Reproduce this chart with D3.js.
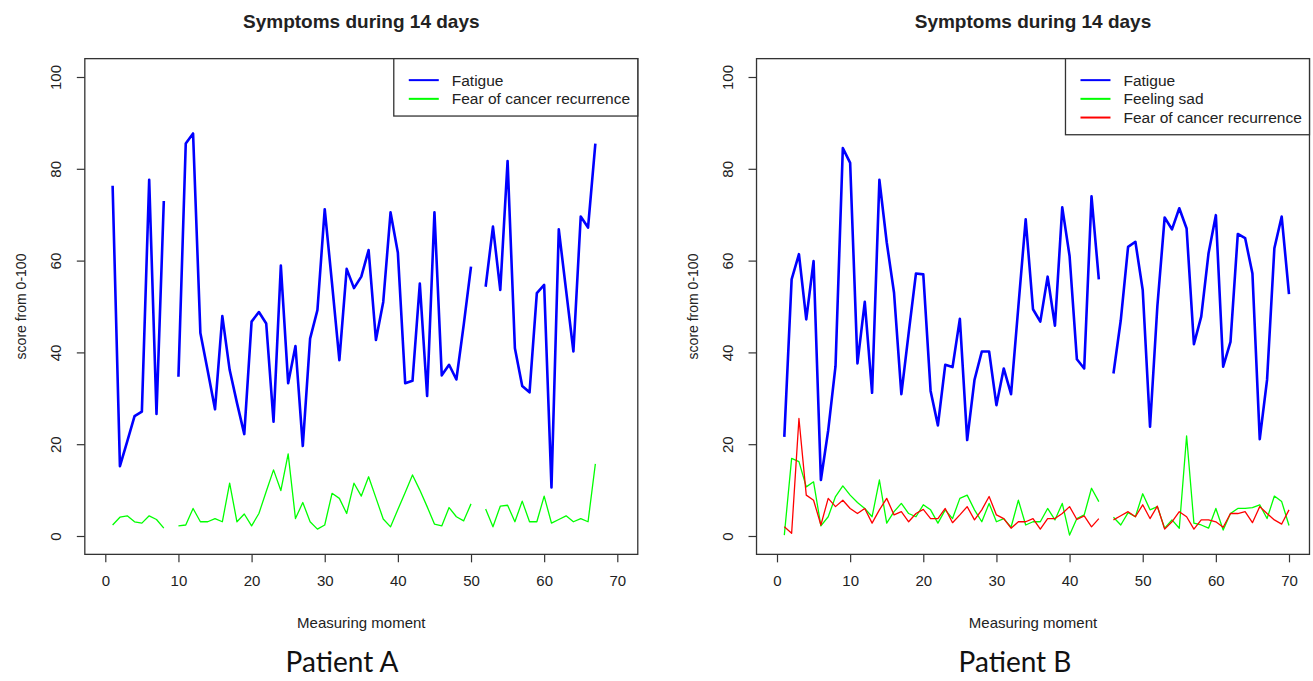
<!DOCTYPE html>
<html>
<head>
<meta charset="utf-8">
<script src="https://cdn.jsdelivr.net/npm/d3@7"></script>
<style>
  body { margin: 0; background: #fff; }
  svg text { font-family: "Liberation Sans", Arial, sans-serif; fill: #222; }
</style>
</head>
<body>
<svg id="chart" width="1313" height="681"></svg>
<script>
// 数据 —— null 表示缺失（线断开）
var ticksX = [0, 10, 20, 30, 40, 50, 60, 70]
var ticksY = [0, 20, 40, 60, 80, 100]

var fatigueA = [76.3, 15.2, 20.6, 26.1, 27.1, 77.6, 26.6, 73, null, 34.7,
  85.5, 87.7, 44.2, 36, 27.6, 47.9, 36.2, 29, 22.2, 46.7,
  48.8, 46.3, 24.9, 58.9, 33.3, 41.4, 19.6, 43, 49.2, 71.2,
  55, 38.3, 58.2, 54, 56.5, 62.3, 42.7, 51, 70.5, 61.7,
  33.3, 33.8, 55, 30.5, 70.5, 35, 37.3, 34.1, 46, 58.7,
  null, 54.3, 67.4, 53.6, 81.7, 40.9, 32.7, 31.3, 52.9, 54.7,
  10.6, 66.8, 53.5, 40.2, 69.6, 67.2, 85.5]

var fearA = [2.4, 4.1, 4.4, 3.1, 2.8, 4.4, 3.6, 1.7, null, 2.2,
  2.4, 6.0, 3.1, 3.1, 3.8, 3.1, 11.5, 3.1, 4.8, 2.2,
  4.9, 9.7, 14.4, 9.9, 17.9, 3.8, 7.3, 3.1, 1.5, 2.4,
  9.3, 8.2, 4.9, 11.5, 8.7, 12.9, 8.3, 3.7, 2.0, 5.8,
  9.5, 13.3, 10, 6.4, 2.6, 2.2, 6.2, 4.2, 3.3, 7,
  null, 5.9, 2.0, 6.5, 6.7, 3.1, 7.6, 3.1, 3.1, 8.7,
  2.8, 3.6, 4.4, 3.1, 3.8, 3.1, 15.7]

var fatigueB = [21.6, 55.9, 61.4, 47.2, 59.9, 12.2, 23, 37, 84.5, 81.3,
  37.6, 51, 31.2, 77.6, 64, 53, 30.9, 44.2, 57.2, 57,
  31.6, 24.1, 37.3, 36.8, 47.3, 20.9, 34, 40.2, 40.2, 28.5,
  36.5, 30.9, 50, 69, 49.4, 46.7, 56.5, 45.8, 71.6, 61,
  38.5, 36.5, 74, 55.9, null, 35.4, 47, 63, 64.1, 53.6,
  23.8, 50, 69.4, 66.8, 71.4, 67, 41.8, 47.8, 61.6, 69.9,
  36.9, 42.3, 65.8, 64.9, 57.2, 21.1, 34, 62.7, 69.6, 52.7]

var sadB = [0.2, 16.9, 16.2, 10.7, 11.8, 2.2, 4.2, 8.6, 10.9, 8.9,
  7.3, 6.0, 4.2, 12.2, 2.8, 5.3, 7.1, 4.9, 4.2, 6.8,
  5.7, 2.8, 5.7, 3.8, 8.2, 8.9, 5.7, 3.1, 7.1, 3.1,
  3.8, 1.9, 7.8, 2.4, 3.1, 3.1, 6.0, 3.5, 7.1, 0.2,
  3.8, 4.6, 10.4, 7.5, null, 4.1, 2.4, 5.1, 4.2, 9.2,
  5.7, 6.4, 1.7, 3.5, 1.7, 21.8, 2.8, 2.4, 1.7, 6.0,
  1.3, 4.9, 6.0, 6.0, 6.2, 6.8, 3.8, 8.7, 7.5, 2.3]

var fearB = [2.0, 0.6, 25.6, 8.9, 7.8, 2.4, 8.2, 6.4, 7.8, 6.0,
  4.9, 6.0, 2.8, 5.7, 8.2, 4.6, 5.3, 3.1, 4.9, 5.8,
  3.8, 3.8, 6.0, 2.9, 4.6, 6.4, 3.5, 5.7, 8.6, 4.6,
  3.8, 1.7, 3.1, 3.1, 3.8, 1.5, 3.8, 3.8, 4.9, 6.4,
  3.6, 4.4, 2.0, 3.8, null, 3.5, 4.4, 5.3, 4.2, 6.8,
  3.8, 6.5, 1.5, 3.1, 5.3, 4.2, 1.5, 3.5, 3.5, 3.1,
  1.9, 4.9, 4.9, 5.3, 2.9, 6.4, 4.9, 3.5, 2.6, 5.7]

var panelA = {
  title: 'Symptoms during 14 days',
  patient: 'Patient A',
  xRange: [105.3, 617.3],
  patientX: 342,
  series: [
    { name: 'Fatigue', values: fatigueA, color: '#0000ff', width: 2.6 },
    { name: 'Fear of cancer recurrence', values: fearA, color: '#00ff00', width: 1.3 }
  ]
}

var panelB = {
  title: 'Symptoms during 14 days',
  patient: 'Patient B',
  xRange: [777, 1289],
  patientX: 1015,
  series: [
    { name: 'Fatigue', values: fatigueB, color: '#0000ff', width: 2.6 },
    { name: 'Feeling sad', values: sadB, color: '#00ff00', width: 1.3 },
    { name: 'Fear of cancer recurrence', values: fearB, color: '#ff0000', width: 1.3 }
  ]
}

var svg = d3.select('#chart')

// 画一个面板
function drawPanel(p) {
  var x = d3.scaleLinear().domain([0, 70]).range(p.xRange)
  var y = d3.scaleLinear().domain([0, 100]).range([536, 77])
  var g = svg.append('g')

  var left = x(-2.8), right = x(72.8), top = y(104), bottom = y(-4)
  var cx = (left + right) / 2

  // 标题
  g.append('text')
    .attr('x', cx).attr('y', 28)
    .attr('text-anchor', 'middle')
    .style('font-size', '19px').style('font-weight', 'bold')
    .text(p.title)

  // x 轴
  var xAxis = g.append('g')
    .attr('transform', 'translate(0,' + bottom + ')')
    .call(d3.axisBottom(x).tickValues(ticksX).tickSize(8).tickPadding(13).tickSizeOuter(0))
  xAxis.select('.domain').remove()
  xAxis.selectAll('line').attr('stroke', '#333').attr('stroke-width', 1.2)
  xAxis.selectAll('text').style('font-size', '15px').attr('fill', '#333')

  // y 轴（刻度文字竖排）
  var yAxis = g.append('g')
    .attr('transform', 'translate(' + left + ',0)')
    .call(d3.axisLeft(y).tickValues(ticksY).tickSize(8).tickSizeOuter(0))
  yAxis.select('.domain').remove()
  yAxis.selectAll('line').attr('stroke', '#333').attr('stroke-width', 1.2)
  yAxis.selectAll('text')
    .attr('x', null).attr('dy', null)
    .attr('text-anchor', 'middle')
    .attr('transform', 'translate(-24,0) rotate(-90)')
    .style('font-size', '15px').attr('fill', '#333')

  // 轴标题
  g.append('text')
    .attr('x', cx).attr('y', 628)
    .attr('text-anchor', 'middle')
    .style('font-size', '15px')
    .text('Measuring moment')

  g.append('text')
    .attr('transform', 'translate(' + (left - 59) + ',' + ((top + bottom) / 2) + ') rotate(-90)')
    .attr('text-anchor', 'middle')
    .style('font-size', '14px')
    .text('score from 0-100')

  // 数据线
  var line = d3.line()
    .defined((d) => d != null)
    .x((d, i) => x(i + 1))
    .y((d) => y(d))

  p.series.forEach(function (s) {
    g.append('path')
      .datum(s.values)
      .attr('d', line)
      .attr('fill', 'none')
      .attr('stroke', s.color)
      .attr('stroke-width', s.width)
      .attr('stroke-linejoin', 'round')
  })

  // 外框
  g.append('rect')
    .attr('x', left).attr('y', top)
    .attr('width', right - left).attr('height', bottom - top)
    .attr('fill', 'none').attr('stroke', '#333').attr('stroke-width', 1.3)

  // 图例（右上角）
  var rowH = 18.7
  var legW = 244
  var legH = 20 + rowH * p.series.length
  var lg = g.append('g').attr('transform', 'translate(' + (right - legW) + ',' + top + ')')
  lg.append('rect')
    .attr('width', legW).attr('height', legH)
    .attr('fill', '#fff').attr('stroke', '#333').attr('stroke-width', 1.3)
  p.series.forEach(function (s, i) {
    var ly = 21.5 + i * rowH
    lg.append('line')
      .attr('x1', 15).attr('x2', 45).attr('y1', ly).attr('y2', ly)
      .attr('stroke', s.color).attr('stroke-width', 2)
    lg.append('text')
      .attr('x', 58).attr('y', ly + 5.5)
      .style('font-size', '15.5px')
      .text(s.name)
  })

  // 病人标签
  svg.append('text')
    .attr('x', p.patientX).attr('y', 672)
    .attr('text-anchor', 'middle')
    .style('font-family', 'Lato, "Open Sans", sans-serif')
    .style('font-size', '28px').style('fill', '#111')
    .text(p.patient)
}

drawPanel(panelA)
drawPanel(panelB)
</script>
</body>
</html>
